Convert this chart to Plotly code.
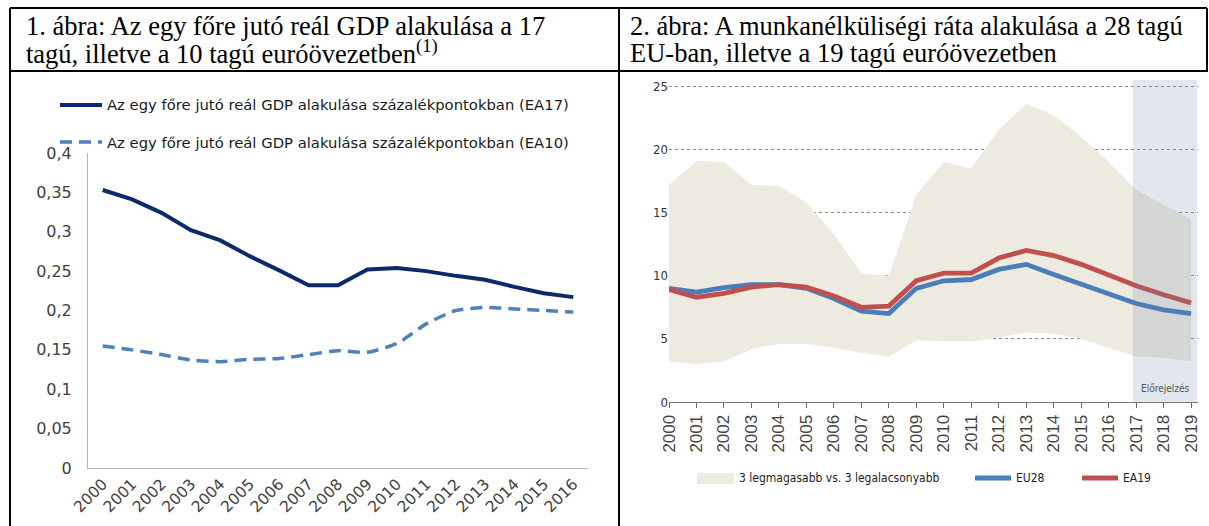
import plotly.graph_objects as go

W, H = 1209, 526

# ---------- data: left chart (real GDP per capita, pp) ----------
years_left = [str(y) for y in range(2000, 2017)]
ea17 = [0.353, 0.341, 0.324, 0.302, 0.289, 0.269, 0.251, 0.232, 0.232, 0.252,
        0.254, 0.250, 0.244, 0.239, 0.230, 0.222, 0.217]
ea10 = [0.155, 0.150, 0.144, 0.137, 0.135, 0.138, 0.139, 0.144, 0.149, 0.147,
        0.158, 0.183, 0.200, 0.204, 0.202, 0.200, 0.198]
left_ytick_vals = [0, 0.05, 0.1, 0.15, 0.2, 0.25, 0.3, 0.35, 0.4]
left_ytick_text = ["0", "0,05", "0,1", "0,15", "0,2", "0,25", "0,3", "0,35", "0,4"]
left_legend = ["Az egy főre jutó reál GDP alakulása százalékpontokban (EA17)",
               "Az egy főre jutó reál GDP alakulása százalékpontokban (EA10)"]

# ---------- data: right chart (unemployment rate, %) ----------
years_right = list(range(2000, 2020))
band_high = [17.2, 19.1, 19.0, 17.2, 17.1, 15.8, 13.3, 10.2, 10.0, 16.4,
             19.0, 18.5, 21.6, 23.6, 22.7, 21.0, 19.0, 16.8, 15.6, 14.5]
band_low = [3.2, 3.0, 3.2, 4.2, 4.6, 4.6, 4.3, 3.9, 3.6, 4.9,
            4.8, 4.8, 5.1, 5.5, 5.4, 5.0, 4.3, 3.6, 3.5, 3.2]
eu28 = [9.0, 8.7, 9.05, 9.3, 9.3, 9.0, 8.2, 7.2, 7.0, 9.0,
        9.6, 9.7, 10.5, 10.9, 10.1, 9.3, 8.55, 7.8, 7.3, 7.0]
ea19 = [8.9, 8.3, 8.6, 9.1, 9.3, 9.1, 8.4, 7.5, 7.6, 9.6,
        10.2, 10.2, 11.4, 12.0, 11.6, 10.9, 10.05, 9.2, 8.5, 7.85]
right_yticks = [0, 5, 10, 15, 20, 25]
forecast_start, forecast_end = 2016.88, 2019.22
right_legend = ["3 legmagasabb vs. 3 legalacsonyabb", "EU28", "EA19"]
forecast_label = "Előrejelzés"

titles_left = ["1. ábra: Az egy főre jutó reál GDP alakulása a 17",
               "tagú, illetve a 10 tagú euróövezetben<sup>(1)</sup>"]
titles_right = ["2. ábra: A munkanélküliségi ráta alakulása a 28 tagú",
                "EU-ban, illetve a 19 tagú euróövezetben"]

NAVY = "#0c2a6a"
LBLUE = "#4f81bd"
BLUE = "#4a7ebb"
RED = "#c0504d"
BAND = "#edebe0"
SERIF = "Liberation Serif, Times New Roman, serif"
SANS = "DejaVu Sans, Verdana, sans-serif"
NARROW = "Liberation Sans Narrow, DejaVu Sans Condensed, Liberation Sans, sans-serif"


def px(x):
    return x / W


def py(y):
    return 1 - y / H


fig = go.Figure()

# left chart traces
fig.add_trace(go.Scatter(x=years_left, y=ea17, mode="lines", xaxis="x", yaxis="y",
                         line=dict(color=NAVY, width=4), showlegend=False,
                         hoverinfo="skip"))
fig.add_trace(go.Scatter(x=years_left, y=ea10, mode="lines", xaxis="x", yaxis="y",
                         line=dict(color=LBLUE, width=3.5, dash="12px,7px",
                                   shape="spline", smoothing=0.6),
                         showlegend=False, hoverinfo="skip"))

# right chart traces
fig.add_trace(go.Scatter(x=years_right, y=band_low, mode="lines", xaxis="x2", yaxis="y2",
                         line=dict(width=0, color=BAND), showlegend=False, hoverinfo="skip"))
fig.add_trace(go.Scatter(x=years_right, y=band_high, mode="lines", xaxis="x2", yaxis="y2",
                         line=dict(width=0, color=BAND), fill="tonexty", fillcolor=BAND,
                         showlegend=False, hoverinfo="skip"))
fig.add_trace(go.Scatter(x=years_right, y=eu28, mode="lines", xaxis="x2", yaxis="y2",
                         line=dict(color=BLUE, width=4.8), showlegend=False, hoverinfo="skip"))
fig.add_trace(go.Scatter(x=years_right, y=ea19, mode="lines", xaxis="x2", yaxis="y2",
                         line=dict(color=RED, width=4.8), showlegend=False, hoverinfo="skip"))

shapes = []
# table borders
tbl = dict(type="line", xref="paper", yref="paper", line=dict(color="black", width=2))
shapes.append(dict(tbl, x0=px(10), x1=px(1207), y0=py(8), y1=py(8)))
shapes.append(dict(tbl, x0=px(10), x1=px(1207), y0=py(71), y1=py(71)))
shapes.append(dict(tbl, x0=px(10), x1=px(10), y0=py(8), y1=py(526)))
shapes.append(dict(tbl, x0=px(619), x1=px(619), y0=py(8), y1=py(526)))
shapes.append(dict(tbl, x0=px(1207), x1=px(1207), y0=py(8), y1=py(72)))

# forecast shading
shapes.append(dict(type="rect", xref="x2", yref="y2", x0=forecast_start, x1=forecast_end,
                   y0=0, y1=25.5, fillcolor="rgba(110,130,170,0.2)", line=dict(width=0),
                   layer="above"))

# left legend samples
shapes.append(dict(type="line", xref="paper", yref="paper", x0=px(60), x1=px(102),
                   y0=py(105), y1=py(105), line=dict(color=NAVY, width=4)))
shapes.append(dict(type="line", xref="paper", yref="paper", x0=px(60), x1=px(102),
                   y0=py(142), y1=py(142), line=dict(color=LBLUE, width=3.5, dash="12px,7px")))
# right legend samples
shapes.append(dict(type="rect", xref="paper", yref="paper", x0=px(697), x1=px(734),
                   y0=py(484), y1=py(473), fillcolor=BAND, line=dict(width=0)))
shapes.append(dict(type="line", xref="paper", yref="paper", x0=px(975), x1=px(1011),
                   y0=py(478), y1=py(478), line=dict(color=BLUE, width=5)))
shapes.append(dict(type="line", xref="paper", yref="paper", x0=px(1082), x1=px(1118),
                   y0=py(478), y1=py(478), line=dict(color=RED, width=5)))

annotations = []


def note(text, x, y, size, family, color="black", xanchor="left"):
    annotations.append(dict(text=text, x=px(x), y=py(y), xref="paper", yref="paper",
                            xanchor=xanchor, yanchor="middle", showarrow=False,
                            font=dict(size=size, family=family, color=color)))


note(titles_left[0], 24, 26, 26.5, SERIF)
note(titles_left[1], 24, 52, 26.5, SERIF)
note(titles_right[0], 628, 26, 26.5, SERIF)
note(titles_right[1], 628, 53, 26.5, SERIF)

note(left_legend[0], 105, 105, 14.8, SANS, "#1a1a1a")
note(left_legend[1], 105, 142, 14.8, SANS, "#1a1a1a")

note(right_legend[0], 737, 478, 12, NARROW, "#222")
note(right_legend[1], 1014, 478, 12, NARROW, "#222")
note(right_legend[2], 1121, 478, 12, NARROW, "#222")

annotations.append(dict(text=forecast_label, x=2018.05, y=1.1, xref="x2", yref="y2",
                        showarrow=False, xanchor="center", yanchor="middle",
                        font=dict(size=10, family=NARROW, color="#555")))

fig.update_layout(
    template="none",
    width=W, height=H,
    margin=dict(l=0, r=0, t=0, b=0, pad=0),
    paper_bgcolor="white", plot_bgcolor="rgba(0,0,0,0)",
    showlegend=False,
    shapes=shapes, annotations=annotations,
    xaxis=dict(domain=[px(88), px(588)], anchor="y", type="category", automargin=False,
               categoryorder="array", categoryarray=years_left, range=[-0.5, 16.5],
               showline=True, linecolor="#b5b5b5", linewidth=1, showgrid=False,
               zeroline=False, ticks="", tickangle=-45,
               tickfont=dict(size=15.5, family=SANS, color="#404040")),
    yaxis=dict(domain=[py(468), py(153)], anchor="x", range=[0, 0.4], automargin=False,
               tickvals=left_ytick_vals, ticktext=left_ytick_text,
               showline=True, linecolor="#b5b5b5", linewidth=1, showgrid=False,
               zeroline=False, ticks="", ticklabelstandoff=12,
               tickfont=dict(size=16, family=SANS, color="#404040")),
    xaxis2=dict(domain=[px(669), px(1198)], anchor="y2", range=[2000, 2019.25],
                automargin=False,
                tickvals=years_right, ticktext=[str(y) for y in years_right],
                tickangle=-90, ticks="outside", ticklen=5, tickcolor="#666",
                showline=True, linecolor="#777", linewidth=1, showgrid=False,
                zeroline=False,
                tickfont=dict(size=17, family="Liberation Sans, Arial, sans-serif",
                              color="#444")),
    yaxis2=dict(domain=[py(402), py(80)], anchor="x2", range=[0, 25.5], automargin=False,
                tickvals=right_yticks, showgrid=True, griddash="dot",
                gridcolor="#8a8a8a", gridwidth=1, showline=False, zeroline=False,
                ticks="", tickfont=dict(size=13, family=NARROW, color="#333")),
)

fig.write_html("out.html",
               config={"displayModeBar": False, "staticPlot": True},
               post_script="document.body.style.margin='0';"
                           "document.body.style.overflow='hidden';")
